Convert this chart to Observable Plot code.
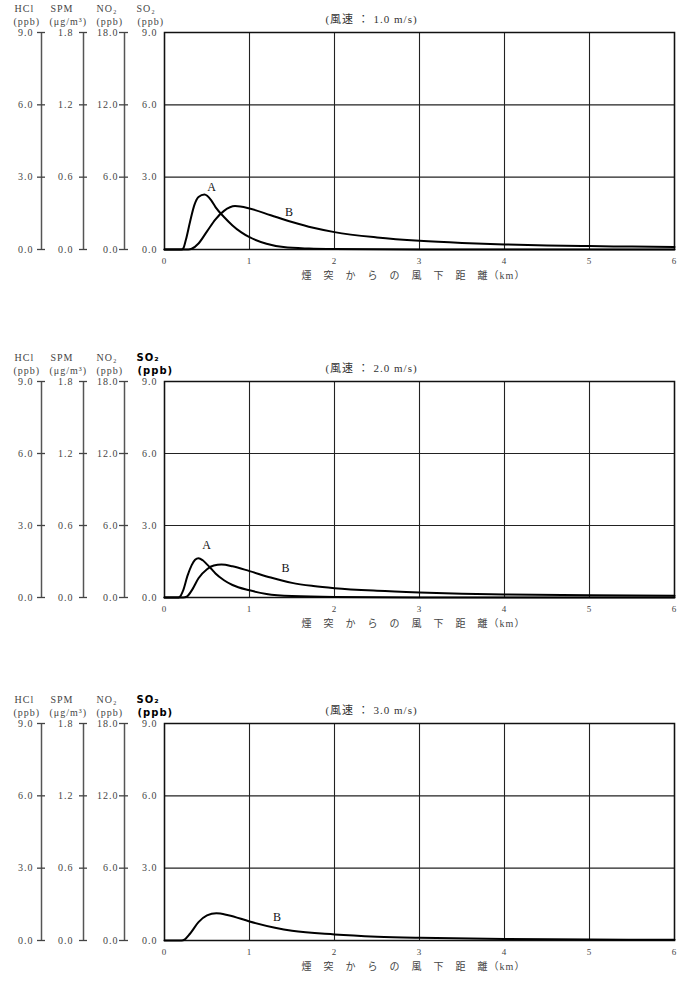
<!DOCTYPE html>
<html><head><meta charset="utf-8">
<script src="https://cdn.jsdelivr.net/npm/d3@7"></script>
<script src="https://cdn.jsdelivr.net/npm/@observablehq/plot@0.6"></script>
<style>body{margin:0;background:#fff;} svg{display:block;}</style>
</head><body><div id="chart"></div>
<script>
// ---- data ----
const yTicks = [0, 3, 6, 9];
const so2TickLabels = ["0.0", "3.0", "6.0", "9.0"];
const hclTickLabels = ["0.0", "3.0", "6.0", "9.0"];
const spmTickLabels = ["0.0", "0.6", "1.2", "1.8"];
const no2TickLabels = ["0.0", "6.0", "12.0", "18.0"];
const xTicks = [0, 1, 2, 3, 4, 5, 6];
const xTickLabels = ["0", "1", "2", "3", "4", "5", "6"];
const windSpeeds = ["1.0", "2.0", "3.0"];
const xLabel = "煙　突　か　ら　の　風　下　距　離（km）";

// wind 1.0 m/s
const w1A_km = [0, 0.2, 0.22, 0.25, 0.3, 0.35, 0.4, 0.47, 0.55, 0.6, 0.7, 0.8, 0.9, 1.0, 1.2, 1.4, 1.7, 2.0, 3.0, 6.0];
const w1A_v  = [0, 0, 0.04, 0.38, 1.14, 1.83, 2.18, 2.28, 2.04, 1.76, 1.35, 1.0, 0.72, 0.51, 0.24, 0.1, 0.04, 0.02, 0.005, 0];
const w1B_km = [0, 0.28, 0.32, 0.4, 0.5, 0.6, 0.7, 0.83, 1.0, 1.25, 1.5, 1.75, 2.0, 2.5, 3.0, 3.5, 4.0, 4.5, 5.0, 5.5, 6.0];
const w1B_v  = [0, 0, 0.03, 0.25, 0.75, 1.25, 1.6, 1.8, 1.7, 1.42, 1.14, 0.9, 0.72, 0.5, 0.36, 0.27, 0.21, 0.17, 0.14, 0.12, 0.1];
// wind 2.0 m/s
const w2A_km = [0, 0.15, 0.18, 0.22, 0.27, 0.32, 0.36, 0.4, 0.45, 0.5, 0.55, 0.6, 0.7, 0.8, 1.0, 1.2, 1.5, 2.0, 3.0, 6.0];
const w2A_v  = [0, 0, 0.03, 0.3, 0.9, 1.35, 1.57, 1.64, 1.55, 1.38, 1.2, 1.0, 0.72, 0.52, 0.3, 0.15, 0.06, 0.02, 0.005, 0];
const w2B_km = [0, 0.22, 0.26, 0.33, 0.4, 0.5, 0.58, 0.67, 0.8, 1.0, 1.25, 1.5, 1.75, 2.0, 2.5, 3.0, 3.5, 4.0, 5.0, 6.0];
const w2B_v  = [0, 0, 0.03, 0.35, 0.8, 1.18, 1.33, 1.37, 1.3, 1.1, 0.83, 0.61, 0.48, 0.39, 0.28, 0.21, 0.16, 0.13, 0.09, 0.07];
// wind 3.0 m/s
const w3B_km = [0, 0.2, 0.24, 0.3, 0.4, 0.5, 0.61, 0.75, 1.0, 1.3, 1.5, 2.0, 2.5, 3.0, 4.0, 5.0, 6.0];
const w3B_v  = [0, 0, 0.05, 0.28, 0.76, 1.04, 1.13, 1.05, 0.79, 0.53, 0.4, 0.25, 0.16, 0.11, 0.06, 0.04, 0.03];

// curve labels
const w1Labels = [{t: "A", km: 0.56, v: 2.58}, {t: "B", km: 1.47, v: 1.54}];
const w2Labels = [{t: "A", km: 0.5, v: 2.17}, {t: "B", km: 1.43, v: 1.21}];
const w3Labels = [{t: "B", km: 1.33, v: 0.96}];

const panels = [
  {wind: windSpeeds[0], series: [[w1A_km, w1A_v], [w1B_km, w1B_v]], labels: w1Labels, height: 349, mb: 100, boldSO2: false},
  {wind: windSpeeds[1], series: [[w2A_km, w2A_v], [w2B_km, w2B_v]], labels: w2Labels, height: 342, mb: 94, boldSO2: true},
  {wind: windSpeeds[2], series: [[w3B_km, w3B_v]], labels: w3Labels, height: 291, mb: 42, boldSO2: true}
];

const serif = "'Liberation Serif','Noto Sans CJK JP',serif";
const gray = "#444";
const lab = arr => d => arr[yTicks.indexOf(d)];

const root = document.getElementById("chart");
for (const p of panels) {
  const lines = p.series.map(([xs, vs]) => xs.map((x, i) => ({x, y: vs[i]})));
  const marks = [
    Plot.gridX({ticks: xTicks, stroke: "#222", strokeOpacity: 1, strokeWidth: 1.1}),
    Plot.gridY({ticks: yTicks, stroke: "#222", strokeOpacity: 1, strokeWidth: 1.1}),
    Plot.frame({stroke: "#111", strokeWidth: 1.5}),
    // SO2 axis
    Plot.axisY({ticks: yTicks, tickFormat: lab(so2TickLabels), tickSize: 0, tickPadding: 7, label: null, fontSize: 10, color: gray}),
    // NO2 axis
    Plot.ruleX([0], {y1: yTicks[0], y2: yTicks[3], dx: -40, stroke: "#555", strokeWidth: 1.5}),
    Plot.axisY({ticks: yTicks, tickFormat: lab(no2TickLabels), tickSize: 9, tickPadding: 1, dx: -36, label: null, fontSize: 10, color: gray, strokeWidth: 1.3}),
    // SPM axis
    Plot.ruleX([0], {y1: yTicks[0], y2: yTicks[3], dx: -81, stroke: "#555", strokeWidth: 1.5}),
    Plot.axisY({ticks: yTicks, tickFormat: lab(spmTickLabels), tickSize: 8, tickPadding: 6, dx: -77, label: null, fontSize: 10, color: gray, strokeWidth: 1.3}),
    // HCl axis
    Plot.ruleX([0], {y1: yTicks[0], y2: yTicks[3], dx: -123, stroke: "#555", strokeWidth: 1.5}),
    Plot.axisY({ticks: yTicks, tickFormat: lab(hclTickLabels), tickSize: 8, tickPadding: 4, dx: -119, label: null, fontSize: 10, color: gray, strokeWidth: 1.3}),
    // x axis
    Plot.axisX({ticks: xTicks, tickFormat: d => xTickLabels[xTicks.indexOf(d)], tickSize: 0, tickPadding: 8, label: null, fontSize: 9, color: gray}),
    Plot.text([xLabel], {frameAnchor: "bottom", dy: 29, dx: -6, fontSize: 10, fill: gray}),
    // headers
    Plot.text(["HCl"], {frameAnchor: "top-left", textAnchor: "start", dx: -150, dy: -28, fontSize: 10, fill: gray}),
    Plot.text(["(ppb)"], {frameAnchor: "top-left", textAnchor: "start", dx: -151, dy: -15, fontSize: 10, fill: gray}),
    Plot.text(["SPM"], {frameAnchor: "top-left", textAnchor: "start", dx: -114, dy: -28, fontSize: 10, fill: gray}),
    Plot.text(["(μg/m³)"], {frameAnchor: "top-left", textAnchor: "start", dx: -115, dy: -15, fontSize: 10, fill: gray}),
    Plot.text(["NO₂"], {frameAnchor: "top-left", textAnchor: "start", dx: -68, dy: -28, fontSize: 10, fill: gray}),
    Plot.text(["(ppb)"], {frameAnchor: "top-left", textAnchor: "start", dx: -68, dy: -15, fontSize: 10, fill: gray}),
    Plot.text(["SO₂"], {frameAnchor: "top-left", textAnchor: "start", dx: -28, dy: -28, fontSize: 10,
      fill: p.boldSO2 ? "#000" : gray, fontWeight: p.boldSO2 ? "bold" : "normal", fontFamily: p.boldSO2 ? "'DejaVu Sans',sans-serif" : serif}),
    Plot.text(["(ppb)"], {frameAnchor: "top-left", textAnchor: "start", dx: -27, dy: -15, fontSize: 10,
      fill: p.boldSO2 ? "#000" : gray, fontWeight: p.boldSO2 ? "bold" : "normal", fontFamily: p.boldSO2 ? "'DejaVu Sans',sans-serif" : serif}),
    // title
    Plot.text([`(風速 ： ${p.wind} m/s)`], {frameAnchor: "top", dx: -48, dy: -17, fontSize: 11, fill: "#333"}),
    // curves
    ...lines.map(l => Plot.line(l, {x: "x", y: "y", curve: "monotone-x", stroke: "#000", strokeWidth: 2})),
    Plot.text(p.labels, {x: "km", y: "v", text: "t", fontSize: 12, fill: "#111"})
  ];
  const svg = Plot.plot({
    width: 680, height: p.height,
    marginLeft: 164, marginRight: 6, marginTop: 32, marginBottom: p.mb,
    x: {domain: [0, 6]}, y: {domain: [0, 9]},
    style: `font-family:${serif};letter-spacing:1px;background:#fff;`,
    marks
  });
  root.appendChild(svg);
}
</script>
</body></html>
